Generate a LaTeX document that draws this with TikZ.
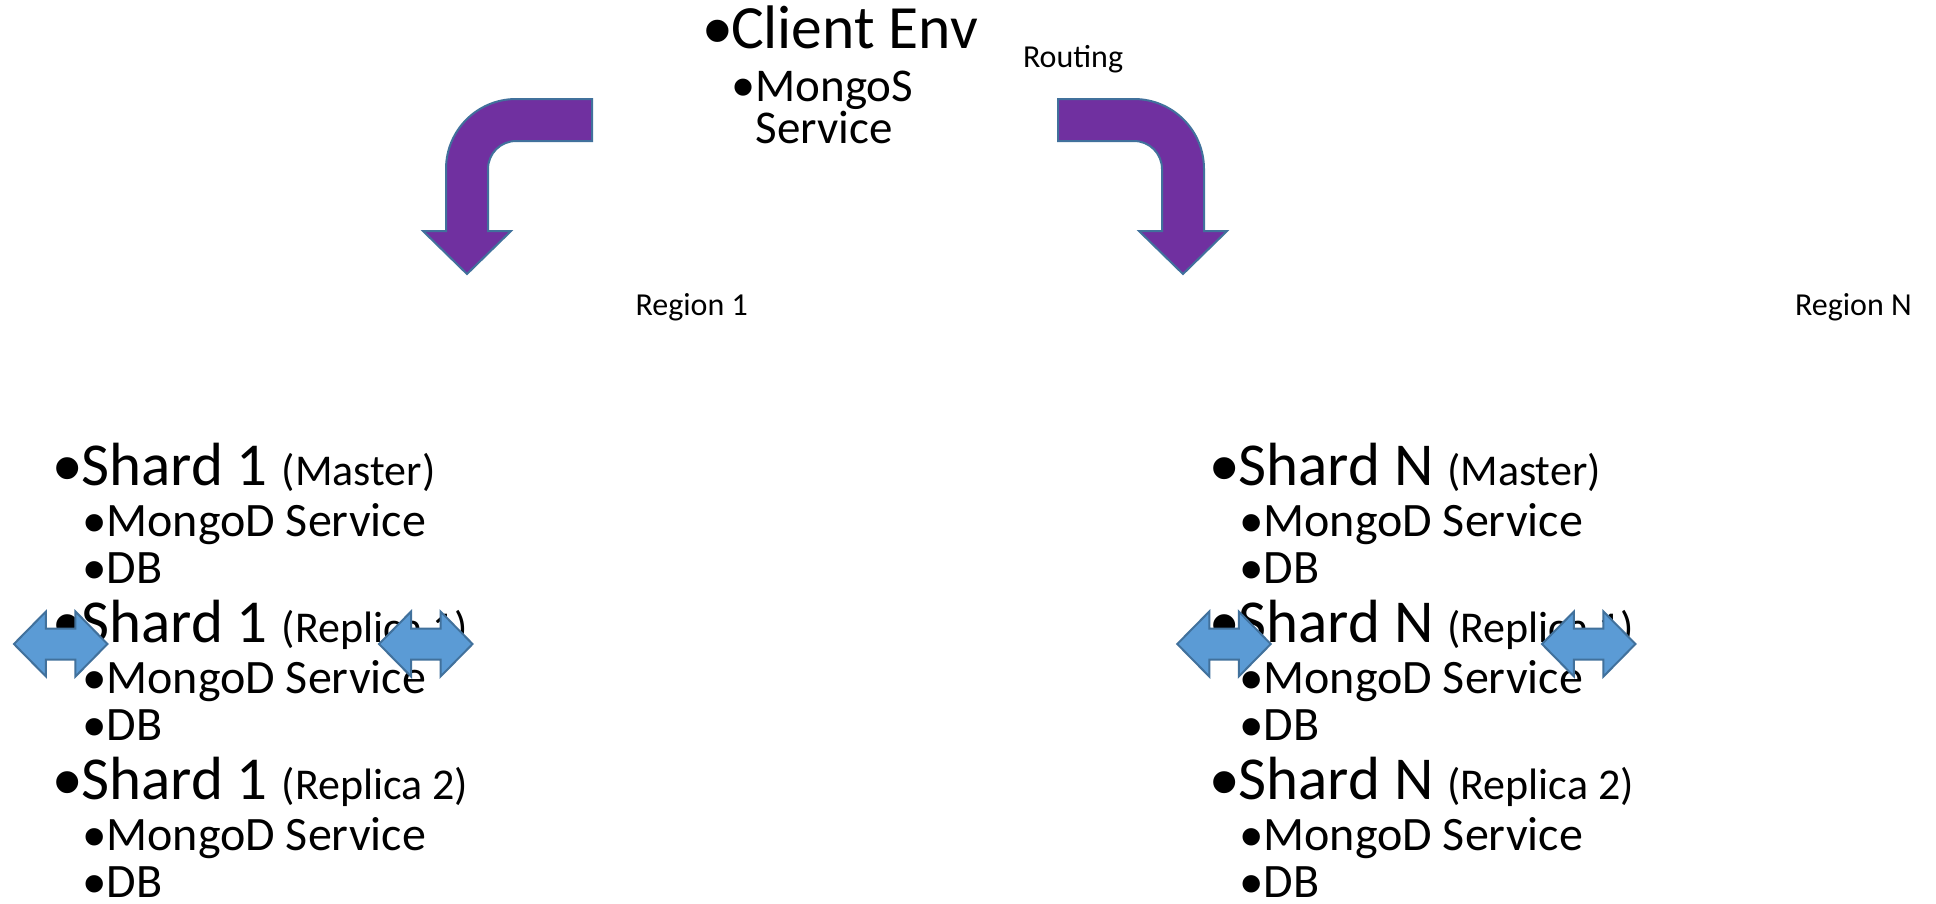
\documentclass[tikz,border=0pt]{standalone}
\usepackage{fontspec}
\setmainfont{Carlito}
\newfontfamily\bulfont{Liberation Sans}
\definecolor{arrowpurple}{HTML}{7030A0}
\definecolor{outlineblue}{HTML}{41719C}
\definecolor{fillblue}{HTML}{5B9BD5}
% bullet: box width, bullet size, vertical shift
\newcommand\mybul[3]{\makebox[#1][c]{\smash{\bulfont\fontsize{#2}{#2}\selectfont\raisebox{#3}{•}}}}
\tikzset{
  txt/.style={anchor=base west, inner sep=0pt, outer sep=0pt},
  bentarrow/.style={fill=arrowpurple, draw=outlineblue, line width=2pt, line join=miter},
  dblstyle/.style={fill=fillblue, draw=outlineblue, line width=2pt, line join=miter},
  dblarr/.pic={
    \draw[dblstyle] (-46.75,0) -- (-14.75,-32.5) -- (-14.75,-15.5) -- (14.75,-15.5)
      -- (14.75,-32.5) -- (46.75,0) -- (14.75,32.5) -- (14.75,15.5)
      -- (-14.75,15.5) -- (-14.75,32.5) -- cycle;
  }
}
\begin{document}
\begin{tikzpicture}[x=1pt, y=-1pt]
\fill[white] (0,0) rectangle (1936,903);
\useasboundingbox (0,0) rectangle (1936,903);

% top: client environment
\node[txt, font=\fontsize{61.5}{70}\selectfont] (client) at (704,48.5)
  {\mybul{27pt}{82}{-9.75pt}Client Env};
\node[txt, font=\fontsize{47}{56}\selectfont] (mongos) at (731.5,101)
  {\mybul{24pt}{63}{-7.6pt}MongoS};
\node[txt, font=\fontsize{47}{56}\selectfont] (mservice) at (755.5,143) {Service};
\node[txt, font=\fontsize{32}{38}\selectfont] (routing) at (1023,67.5) {Routing};
\node[txt, font=\fontsize{32}{38}\selectfont] (region1) at (635.5,315) {Region 1};
\node[txt, font=\fontsize{32}{38}\selectfont] (regionN) at (1795,315) {Region N};

% shard blocks
\foreach \X/\S/\side in {0/1/L, 1157/N/R} {
  \foreach \g/\lab in {0/Master, 1/Replica 1, 2/Replica 2} {
    \pgfmathsetmacro\B{485+157*\g}
    \node[txt, font=\fontsize{61}{72}\selectfont] (\side-\g-shard) at (\X+54.5,\B)
      {\mybul{27pt}{81}{-10.5pt}Shard \S{} {\fontsize{44}{52}\selectfont(\lab)}};
    \node[txt, font=\fontsize{48}{58}\selectfont] (\side-\g-svc) at (\X+83.5,\B+51.5)
      {\mybul{23pt}{64}{-8.3pt}MongoD Service};
    \node[txt, font=\fontsize{48}{58}\selectfont] (\side-\g-db) at (\X+83.5,\B+98.5)
      {\mybul{23pt}{64}{-8.3pt}DB};
  }
}

% bent routing arrows
\draw[bentarrow] (592,99) -- (516,99) .. controls (477.3,99) and (446,130.3) .. (446,169)
  -- (446,231) -- (423,231) -- (467,274) -- (511,231) -- (488,231) -- (488,169)
  .. controls (488,153.5) and (500.5,141) .. (516,141) -- (592,141) -- cycle;
\draw[bentarrow] (1058,99) -- (1134,99) .. controls (1172.7,99) and (1204,130.3) .. (1204,169)
  -- (1204,231) -- (1227,231) -- (1183,274) -- (1139,231) -- (1162,231) -- (1162,169)
  .. controls (1162,153.5) and (1149.5,141) .. (1134,141) -- (1058,141) -- cycle;

% replication double arrows
\pic (dL1) at (60.7,644) {dblarr};
\pic (dL2) at (425.8,644) {dblarr};
\pic (dR1) at (1224,644) {dblarr};
\pic (dR2) at (1588.7,644) {dblarr};
\end{tikzpicture}
\end{document}
